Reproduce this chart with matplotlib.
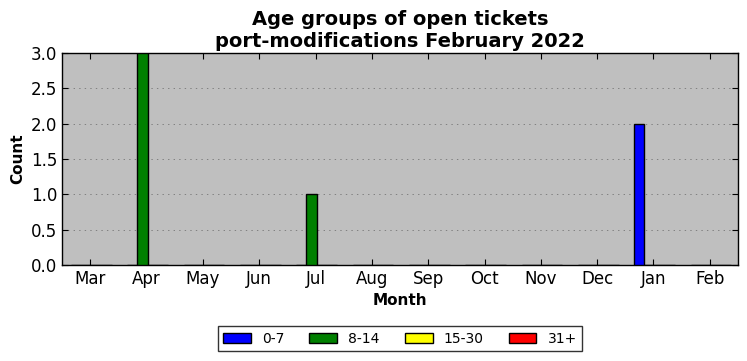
import matplotlib
matplotlib.use("Agg")
import matplotlib.pyplot as plt
import numpy as np

plt.rcParams["lines.scale_dashes"] = False

months = ["Mar", "Apr", "May", "Jun", "Jul", "Aug", "Sep", "Oct", "Nov", "Dec", "Jan", "Feb"]
series_names = ["0-7", "8-14", "15-30", "31+"]
s_0_7 = [0, 0, 0, 0, 0, 0, 0, 0, 0, 0, 2, 0]
s_8_14 = [0, 3, 0, 0, 1, 0, 0, 0, 0, 0, 0, 0]
s_15_30 = [0, 0, 0, 0, 0, 0, 0, 0, 0, 0, 0, 0]
s_31p = [0, 0, 0, 0, 0, 0, 0, 0, 0, 0, 0, 0]
colors = ["blue", "green", "yellow", "red"]

fig = plt.figure(figsize=(7.47, 3.61), dpi=100)
ax = fig.add_axes([62/747, 1-265/361, (738-62)/747, (265-53)/361])
ax.set_facecolor("#bfbfbf")
x = np.arange(len(months))
w = 0.18
for i, (vals, c, n) in enumerate(zip([s_0_7, s_8_14, s_15_30, s_31p], colors, series_names)):
    ax.bar(x - 0.25 + i * w, vals, width=w, color=c, edgecolor="black", linewidth=1, label=n, zorder=3)

ax.set_xlim(-0.5, 11.5)
ax.set_ylim(0, 3.0)
ax.set_xticks(x)
ax.set_xticklabels(months)
ax.set_yticks(np.arange(0, 3.01, 0.5))
ax.tick_params(direction="in", top=True, right=True, labelsize=12, length=4)
ax.grid(True, axis="y", linestyle=(0, (1, 3)), color="#808080", linewidth=0.7, zorder=0)
for s in ax.spines.values():
    s.set_linewidth(1)
ax.set_xlabel("Month", fontsize=11, fontweight="bold")
ax.set_ylabel("Count", fontsize=11, fontweight="bold")
ax.set_title("Age groups of open tickets\nport-modifications February 2022", fontsize=14, fontweight="bold",
             linespacing=1.2, pad=4.5)
leg = ax.legend(loc="upper center", bbox_to_anchor=(0.5, -0.255), ncol=4, frameon=True, fancybox=False,
                edgecolor="black", fontsize=10, handlelength=2.0, columnspacing=1.8)
leg.get_frame().set_linewidth(1)
fig.savefig("out.png", dpi=100)
